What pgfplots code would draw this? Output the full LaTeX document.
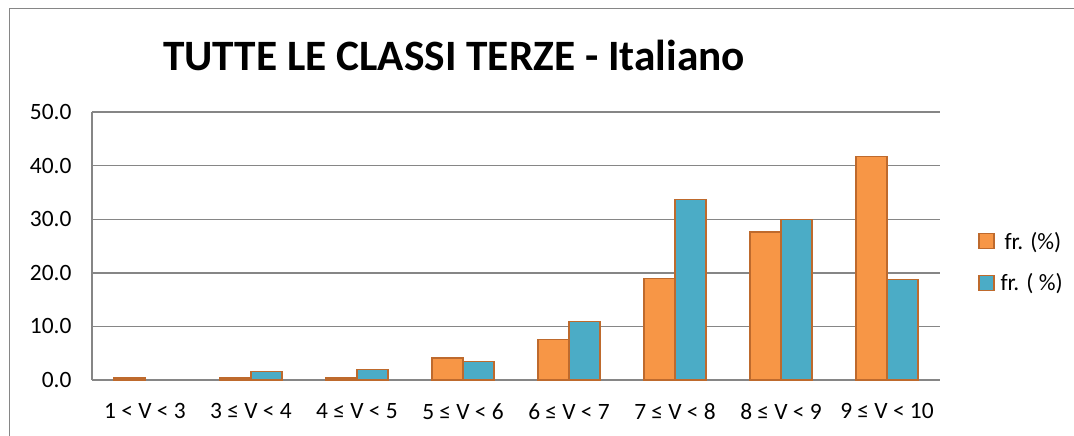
\documentclass[border=0pt]{standalone}
\usepackage{fontspec}
\setmainfont{Carlito}
\usepackage{pgfplots}
\pgfplotsset{compat=1.18}
\definecolor{cOr}{RGB}{247,150,70}
\definecolor{cBl}{RGB}{75,172,198}
\definecolor{cBd}{RGB}{190,106,45}
\definecolor{cGr}{RGB}{134,134,134}
\pgfplotstableread{
x y
0 0.4
1 0.4
2 0.4
3 4.1
4 7.5
5 19.0
6 27.6
7 41.7
}\orange
\pgfplotstableread{
x y
1 1.55
2 1.9
3 3.5
4 10.9
5 33.7
6 29.9
7 18.7
}\blue
\begin{document}
\begin{tikzpicture}[x=1bp,y=1bp]
\useasboundingbox (0,0) rectangle (1074,-436);
\draw[cGr, line width=1.5bp] (9.5,-436) -- (9.5,-8.5) -- (1074,-8.5);
\node[anchor=base, inner sep=0pt, font=\fontsize{43.5}{52}\selectfont\bfseries] at (454,-71) {TUTTE LE CLASSI TERZE - Italiano};
\begin{axis}[
  at={(92bp,-380bp)}, anchor=south west,
  width=848bp, height=268bp, scale only axis,
  xmin=-0.5, xmax=7.5, ymin=0, ymax=50,
  ybar=0pt, bar width=31bp,
  axis x line*=bottom, axis y line*=left,
  axis line style={cGr, line width=1.4bp},
  ytick={0,10,20,30,40,50},
  ymajorgrids, grid style={cGr, line width=1.4bp},
  major tick length=0pt,
  xtick={0,1,2,3,4,5,6,7},
  xticklabels={1 < V < 3, 3 ≤ V < 4, 4 ≤ V < 5, 5 ≤ V < 6, 6 ≤ V < 7, 7 ≤ V < 8, 8 ≤ V < 9, 9 ≤ V < 10},
  tick label style={font=\fontsize{23.5}{28}\selectfont},
  /pgf/number format/fixed, /pgf/number format/fixed zerofill, /pgf/number format/precision=1,
  /pgf/number format/assume math mode=true,
  yticklabel style={xshift=-17bp},
  xticklabel style={yshift=-20bp},
  legend image code/.code={\draw[#1] (0bp,-7.5bp) rectangle (15bp,7.5bp);},
  legend style={draw=none, fill=none, inner sep=0pt, at={(axis description cs:1.0448,0.44)}, anchor=west,
    font=\fontsize{23.5}{28}\selectfont, row sep=21bp, column sep=5bp, nodes={inner sep=1bp}},
  legend cell align=left,
]
\addplot[fill=cOr, draw=cBd, line width=1.3bp] table[x=x,y=y] {\orange};
\addplot[fill=cBl, draw=cBd, line width=1.3bp] table[x=x,y=y] {\blue};
\legend{\hspace{4bp}fr. (\%), fr. ( \%)}
\end{axis}
\end{tikzpicture}
\end{document}
